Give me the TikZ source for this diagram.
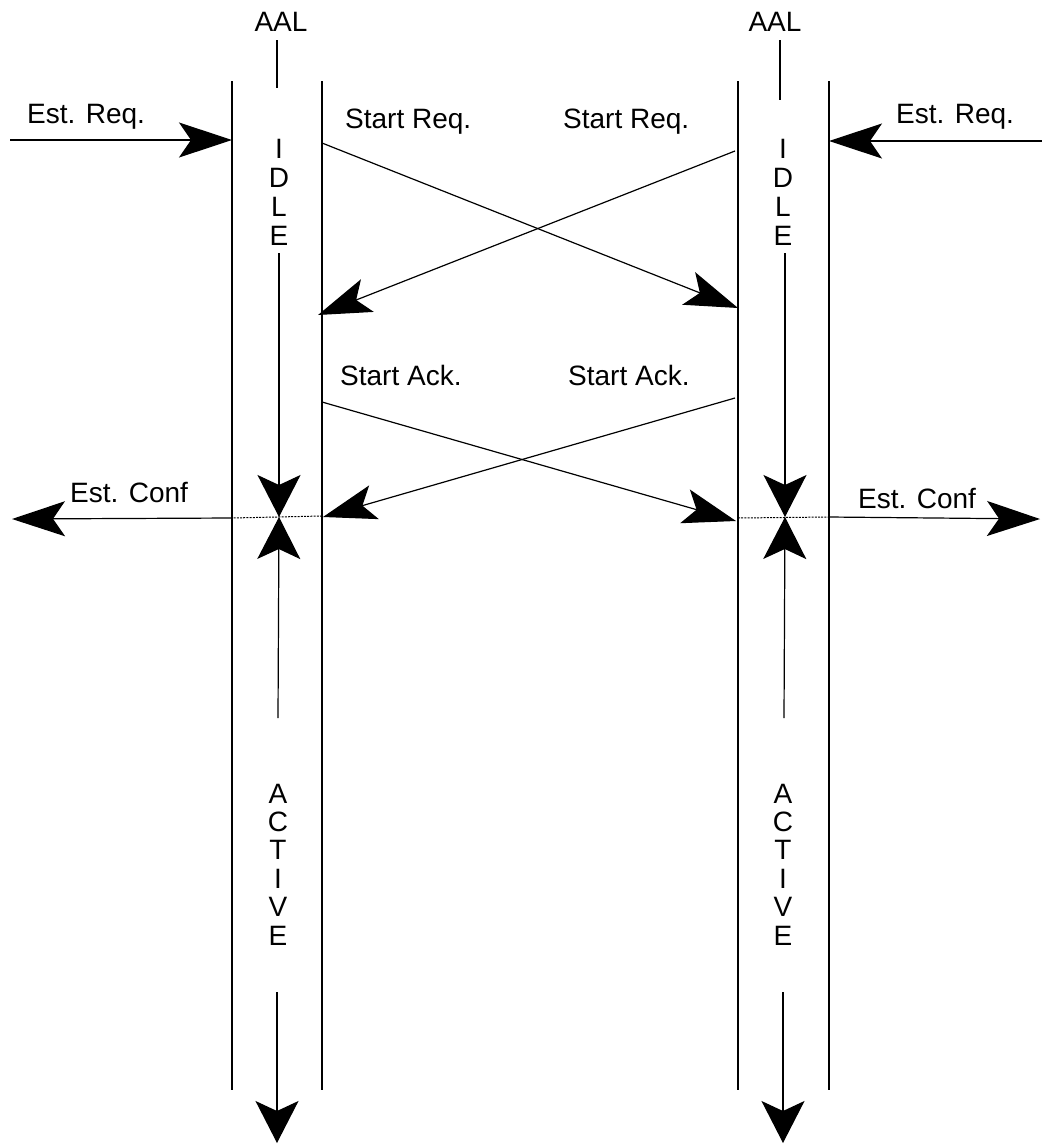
\documentclass[tikz,border=0pt]{standalone}
\usepackage{fontspec}
\setmainfont{Liberation Sans}
\usetikzlibrary{arrows.meta}
\begin{document}
\begin{tikzpicture}[x=1pt,y=-1pt,
  every node/.style={inner sep=0pt, font=\fontsize{28}{30}\selectfont},
  wire/.style={line width=1.2pt},
  harrow/.style={wire,-{Stealth[length=53pt,width=35pt,inset=12pt]}},
  varrow/.style={wire,-{Stealth[length=42pt,width=43pt,inset=10pt]}},
  link/.style={line width=1pt, dash pattern=on 2pt off 1.2pt},
  lbl/.style={anchor=base west},
  letter/.style={anchor=base}]
\useasboundingbox (0,0) rectangle (1042,1144);

% ---- lifeline borders ----
\coordinate (aTL) at (232,81);  \coordinate (aBL) at (232,1090);
\coordinate (aTR) at (322,81);  \coordinate (aBR) at (322,1090);
\coordinate (bTL) at (738,81);  \coordinate (bBL) at (738,1090);
\coordinate (bTR) at (829,81);  \coordinate (bBR) at (829,1090);
\draw[wire] (aTL) -- (aBL);
\draw[wire] (aTR) -- (aBR);
\draw[wire] (bTL) -- (bBL);
\draw[wire] (bTR) -- (bBR);

% ---- AAL headers ----
\node[letter] (aalA) at (281,31) {AAL};
\node[letter] (aalB) at (775,31) {AAL};
\coordinate (aalAs) at (277,40); \coordinate (aalAe) at (277,88);
\coordinate (aalBs) at (780,40); \coordinate (aalBe) at (780,100);
\draw[wire] (aalAs) -- (aalAe);
\draw[wire] (aalBs) -- (aalBe);

% ---- state labels, written top to bottom ----
\newcommand{\idleword}{\fontsize{28}{29}\selectfont
  \begin{tabular}[t]{@{}c@{}}I\\D\\L\\E\end{tabular}}
\newcommand{\activeword}{\fontsize{28}{28.4}\selectfont
  \begin{tabular}[t]{@{}c@{}}A\\C\\T\\I\\V\\E\end{tabular}}
\node[letter] (idleA) at (279,158) {\idleword};
\node[letter] (idleB) at (783,158) {\idleword};
\node[letter] (actA) at (278,803) {\activeword};
\node[letter] (actB) at (783,803) {\activeword};

% ---- state transitions ----
\coordinate (idleAend) at (279,253); \coordinate (meetA) at (279,517);
\coordinate (actAtop) at (278,718);  \coordinate (actAend) at (277,992);
\coordinate (downA) at (277,1143);
\draw[varrow] (idleAend) -- (meetA);
\draw[varrow] (actAtop) -- (meetA);
\draw[varrow] (actAend) -- (downA);

\coordinate (idleBend) at (785,253); \coordinate (meetB) at (785,517);
\coordinate (actBtop) at (784,718);  \coordinate (actBend) at (783,992);
\coordinate (downB) at (783,1143);
\draw[varrow] (idleBend) -- (meetB);
\draw[varrow] (actBtop) -- (meetB);
\draw[varrow] (actBend) -- (downB);

% ---- establish requests ----
\node[lbl] (reqA) at (27,123) {Est. Req.};
\node[lbl] (reqB) at (896,123) {Est. Req.};
\coordinate (reqAs) at (10,140);   \coordinate (reqAe) at (232,140);
\coordinate (reqBs) at (1042,141); \coordinate (reqBe) at (829,141);
\draw[harrow] (reqAs) -- (reqAe);
\draw[harrow] (reqBs) -- (reqBe);

% ---- start requests ----
\node[lbl] (sreqA) at (345,128) {Start Req.};
\node[lbl] (sreqB) at (563,128) {Start Req.};
\coordinate (sreqAs) at (322,143); \coordinate (sreqAe) at (738,308);
\coordinate (sreqBs) at (735,151); \coordinate (sreqBe) at (318,315);
\draw[harrow] (sreqAs) -- (sreqAe);
\draw[harrow] (sreqBs) -- (sreqBe);

% ---- start acknowledgements ----
\node[lbl] (sackA) at (340,385) {Start Ack.};
\node[lbl] (sackB) at (568,385) {Start Ack.};
\coordinate (sackAs) at (322,402); \coordinate (sackAe) at (736,521);
\coordinate (sackBs) at (735,398); \coordinate (sackBe) at (323,517);
\draw[harrow] (sackAs) -- (sackAe);
\draw[harrow] (sackBs) -- (sackBe);

% ---- establish confirmations ----
\node[lbl] (confA) at (70,502) {Est. Conf};
\node[lbl] (confB) at (858,508) {Est. Conf};
\coordinate (confAin) at (322,516); \coordinate (confAs) at (232,518);
\coordinate (confAe) at (12,519);
\coordinate (confBin) at (738,518); \coordinate (confBs) at (829,517);
\coordinate (confBe) at (1040,519);
\draw[link] (confAin) -- (confAs);
\draw[harrow] (confAs) -- (confAe);
\draw[link] (confBin) -- (confBs);
\draw[harrow] (confBs) -- (confBe);
\end{tikzpicture}
\end{document}
